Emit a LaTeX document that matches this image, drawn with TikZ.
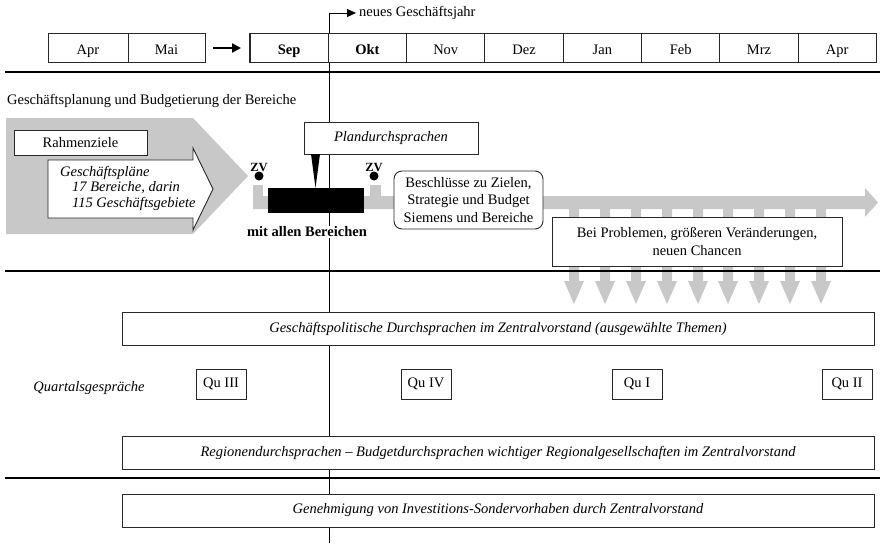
\documentclass[tikz,border=0pt]{standalone}
\usepackage{fontspec}
\setmainfont{Liberation Serif}
\usetikzlibrary{arrows.meta,positioning}
\definecolor{band}{RGB}{200,200,200}
\definecolor{rule}{RGB}{40,40,40}
\newcommand{\basefont}{\fontsize{14.5}{16.5}\selectfont}
\begin{document}
\begin{tikzpicture}[x=1pt,y=-1pt,
  font=\basefont,
  month/.style={draw=rule, line width=0.9pt, fill=white, minimum width=78.3, minimum height=29, inner sep=0pt, outer sep=0pt, anchor=west, text height=13pt, text depth=0pt},
  keymonth/.style={month, line width=1.6pt, font=\basefont\bfseries},
  panel/.style={draw=rule, line width=0.9pt, fill=white, inner sep=0pt, outer sep=0pt},
  wide/.style={panel, minimum width=752, minimum height=33, font=\basefont\itshape},
  quarter/.style={panel, minimum width=50, minimum height=30},
  zv/.style={font=\fontsize{12.5}{13}\selectfont\bfseries, inner sep=0pt, anchor=south},
  dot/.style={circle, fill=black, minimum size=9, inner sep=0pt},
  divider/.style={line width=1.3pt, draw=black}]
\useasboundingbox (0,0) rectangle (880,543);

% fiscal-year marker line
\coordinate (ytop) at (329,13);
\coordinate (ybot) at (329,543);
\draw[line width=0.8pt] (ytop) -- (ybot);
\draw[line width=0.8pt, -{Triangle[length=9pt,width=8pt]}] (ytop) -- ++(27,0) coordinate (yarr);
\node[anchor=west, inner sep=0pt] (newyear) at (359,13) {neues Geschäftsjahr};

% months
\node[month, minimum width=80] (m1) at (48,48) {Apr};
\node[month, minimum width=77] (m2) at (m1.east) {Mai};
\node[keymonth] (m3) at (250,48) {Sep};
\node[keymonth] (m4) at (m3.east) {Okt};
\node[month] (m5) at (m4.east) {Nov};
\node[month] (m6) at (m5.east) {Dez};
\node[month] (m7) at (m6.east) {Jan};
\node[month] (m8) at (m7.east) {Feb};
\node[month] (m9) at (m8.east) {Mrz};
\node[month] (m10) at (m9.east) {Apr};
\draw[line width=2.6pt, -{Triangle[length=9pt,width=9pt]}] ([xshift=8pt]m2.east) -- ([xshift=-9pt]m3.west);

% section rules
\coordinate (r1a) at (5,72);   \coordinate (r1b) at (880,72);
\coordinate (r2a) at (5,271);  \coordinate (r2b) at (880,271);
\coordinate (r3a) at (5,478);  \coordinate (r3b) at (880,478);
\draw[divider, line width=1.8pt] (r1a) -- (r1b);

\node[anchor=west, inner sep=0pt] (title) at (7,101) {Geschäftsplanung und Budgetierung der Bereiche};

% planning phase: large grey pentagon
\fill[band] (6,118) -- (193,118) -- (248,176) -- (193,234) -- (6,234) -- cycle;
\node[panel, minimum width=133, minimum height=25, anchor=north west] (frame) at (14,130) {Rahmenziele};
\draw[rule, line width=0.9pt, fill=white] (48,160) -- (193,160) -- (193,148) -- (213,189) -- (193,230) -- (193,218) -- (48,218) -- cycle;
\node[anchor=north west, inner sep=0pt, align=left, font=\fontsize{14.5}{15.5}\selectfont\itshape] (plans) at (60,166)
  {Geschäftspläne\\\hspace*{12pt}17 Bereiche, darin\\\hspace*{12pt}115 Geschäftsgebiete};

% timeline band with arrow head
\fill[band] (253,196) -- (865,196) -- (865,188) -- (878,202.5) -- (865,217) -- (865,209) -- (253,209) -- cycle;
\fill[band] (253,185) rectangle (263,197);
\fill[band] (370,185) rectangle (381,197);

% escalation arrows
\foreach \cx in {574,605,636,667,698,728,759,790,821}{
  \fill[band] (\cx-5,205) -- (\cx+5,205) -- (\cx+5,281) -- (\cx+10,281) -- (\cx,304) -- (\cx-10,281) -- (\cx-5,281) -- cycle;
}

% board dots
\node[dot] (zv1dot) at (259,176) {};
\node[dot] (zv2dot) at (374,176) {};
\node[zv] (zv1) at ([yshift=-1pt]zv1dot.north) {ZV};
\node[zv] (zv2) at ([yshift=-1pt]zv2dot.north) {ZV};

% plan reviews
\node[fill=black, minimum width=96, minimum height=25, inner sep=0pt, anchor=north west] (review) at (268,188) {};
\node[panel, minimum width=174, minimum height=32, anchor=north west, font=\basefont\itshape] (plan) at (304,122) {Plandurchsprachen};
\fill[black] (311,154) -- (320,154) -- (315.5,188) -- cycle;
\node[fill=white, inner sep=1pt, font=\basefont\bfseries] (allunits) at (307,232) {mit allen Bereichen};

\node[panel, rounded corners=8pt, minimum width=149, minimum height=58, anchor=north west, align=center, font=\fontsize{14.5}{17.5}\selectfont] (decide) at (394,171)
  {Beschlüsse zu Zielen,\\Strategie und Budget\\Siemens und Bereiche};

\node[panel, minimum width=290, minimum height=49, anchor=north west, align=center, font=\fontsize{14.5}{17.5}\selectfont] (issues) at (552,217)
  {Bei Problemen, größeren Veränderungen,\\neuen Chancen};

\draw[divider] (r2a) -- (r2b);

% board reviews
\node[wide, anchor=north west] (policy) at (122,312) {Geschäftspolitische Durchsprachen im Zentralvorstand (ausgewählte Themen)};
\node[font=\basefont\itshape, inner sep=0pt] (quarterly) at (89,388) {Quartalsgespräche};
\node[quarter, anchor=north west] (q3) at (196,369) {Qu III};
\node[quarter, anchor=north west] (q4) at (401,369) {Qu IV};
\node[quarter, anchor=north west] (q1) at (612,369) {Qu I};
\node[quarter, anchor=north west] (q2) at (822,369) {Qu II};
\node[wide, anchor=north west] (regions) at (122,436) {Regionendurchsprachen -- Budgetdurchsprachen wichtiger Regionalgesellschaften im Zentralvorstand};

\draw[divider] (r3a) -- (r3b);

\node[wide, anchor=north west] (invest) at (122,494) {Genehmigung von Investitions-Sondervorhaben durch Zentralvorstand};
\end{tikzpicture}
\end{document}
